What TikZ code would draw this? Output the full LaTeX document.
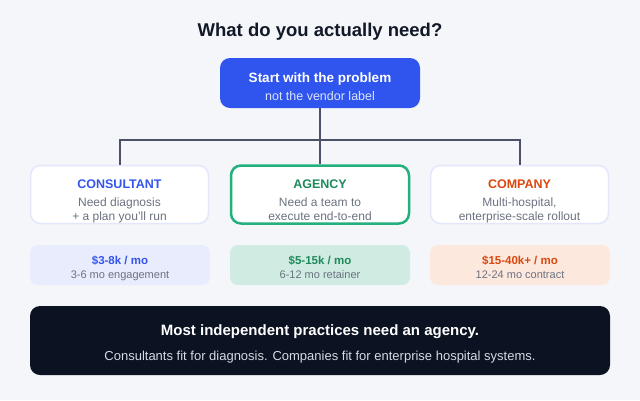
\documentclass[tikz,border=0pt]{standalone}
\usepackage{fontspec}
\setmainfont{Liberation Sans}
\definecolor{bgc}{HTML}{F5F6FA}
\definecolor{bluebox}{HTML}{2F55EE}
\definecolor{linec}{HTML}{4B5168}
\definecolor{cardborder}{HTML}{E3E7FB}
\definecolor{agborder}{HTML}{22B07D}
\definecolor{tblue}{HTML}{3355EA}
\definecolor{tgreen}{HTML}{1E8A5C}
\definecolor{torange}{HTML}{D9480F}
\definecolor{tgray}{HTML}{6B7280}
\definecolor{pblue}{HTML}{E8ECFD}
\definecolor{pgreen}{HTML}{CFEBE2}
\definecolor{porange}{HTML}{FDE8DD}
\definecolor{darkbox}{HTML}{0B1221}
\definecolor{lightline}{HTML}{D5DAE3}
\definecolor{titlec}{HTML}{111827}
\definecolor{sublight}{HTML}{DCE3FF}
\newcommand{\fs}[1]{\fontsize{#1}{#1}\selectfont}
\tikzset{
  box/.style={rectangle, rounded corners=10pt, inner sep=0pt},
  card/.style={box, fill=white, draw=cardborder, line width=1.5pt, minimum width=178pt, minimum height=58pt},
  pricebox/.style={box, rounded corners=8pt, minimum width=180pt, minimum height=40pt},
  txt/.style={anchor=base, inner sep=0pt},
  conn/.style={draw=linec, line width=2pt},
}
\begin{document}
\begin{tikzpicture}[x=1pt,y=-1pt]
\fill[bgc] (0,0) rectangle (640,400);
\useasboundingbox (0,0) rectangle (640,400);
% title
\node[txt, text=titlec] (title) at (320,36.5) {\fs{18.5}\bfseries What do you actually need?};
% top box
\node[box, fill=bluebox, minimum width=200pt, minimum height=50pt] (top) at (320,83) {};
\node[txt, text=white] (topt1) at (320,82.5) {\fs{13.5}\bfseries Start with the problem};
\node[txt, text=sublight] (topt2) at (320,100) {\fs{12.5}not the vendor label};
% cards
\node[card] (c1) at (119.5,194.5) {};
\node[card, draw=agborder, line width=2.5pt] (c2) at (320,194.5) {};
\node[card] (c3) at (519.5,194.5) {};
% connectors
\coordinate (bus) at (320,140);
\draw[conn] (top.south) -- (bus);
\draw[conn] (bus) -- (c2.north);
\draw[conn] (c1.north) |- (bus) -| (c3.north);
% card texts
\node[txt, text=tblue] (c1t) at (119.5,188) {\fs{12.5}\bfseries CONSULTANT};
\node[txt, text=tgray] (c1a) at (119.5,206.5) {\fs{12}Need diagnosis};
\node[txt, text=tgray] (c1b) at (119.5,220.5) {\fs{12}+ a plan you'll run};
\node[txt, text=tgreen] (c2t) at (320,188) {\fs{12.5}\bfseries AGENCY};
\node[txt, text=tgray] (c2a) at (320,206.5) {\fs{12}Need a team to};
\node[txt, text=tgray] (c2b) at (320,220.5) {\fs{12}execute end-to-end};
\node[txt, text=torange] (c3t) at (519.5,188) {\fs{12.5}\bfseries COMPANY};
\node[txt, text=tgray] (c3a) at (519.5,206.5) {\fs{12}Multi-hospital,};
\node[txt, text=tgray] (c3b) at (519.5,220.5) {\fs{12}enterprise-scale rollout};
% price boxes
\node[pricebox, fill=pblue] (p1) at (120,265) {};
\node[pricebox, fill=pgreen] (p2) at (320,265) {};
\node[pricebox, fill=porange] (p3) at (520,265) {};
\node[txt, text=tblue] (p1a) at (120,264) {\fs{11.5}\bfseries \$3-8k / mo};
\node[txt, text=tgray] (p1b) at (120,278.5) {\fs{11}3-6 mo engagement};
\node[txt, text=tgreen] (p2a) at (320,264) {\fs{11.5}\bfseries \$5-15k / mo};
\node[txt, text=tgray] (p2b) at (320,278.5) {\fs{11}6-12 mo retainer};
\node[txt, text=torange] (p3a) at (520,264) {\fs{11.5}\bfseries \$15-40k+ / mo};
\node[txt, text=tgray] (p3b) at (520,278.5) {\fs{11}12-24 mo contract};
% bottom dark box
\node[box, fill=darkbox, minimum width=580pt, minimum height=69pt] (bottom) at (320,340.5) {};
\node[txt, text=white] (b1) at (320,335.5) {\fs{15}\bfseries Most independent practices need an agency.};
\node[txt, text=lightline] (b2) at (320,360.5) {\fs{13}Consultants fit for diagnosis. Companies fit for enterprise hospital systems.};
\end{tikzpicture}
\end{document}
